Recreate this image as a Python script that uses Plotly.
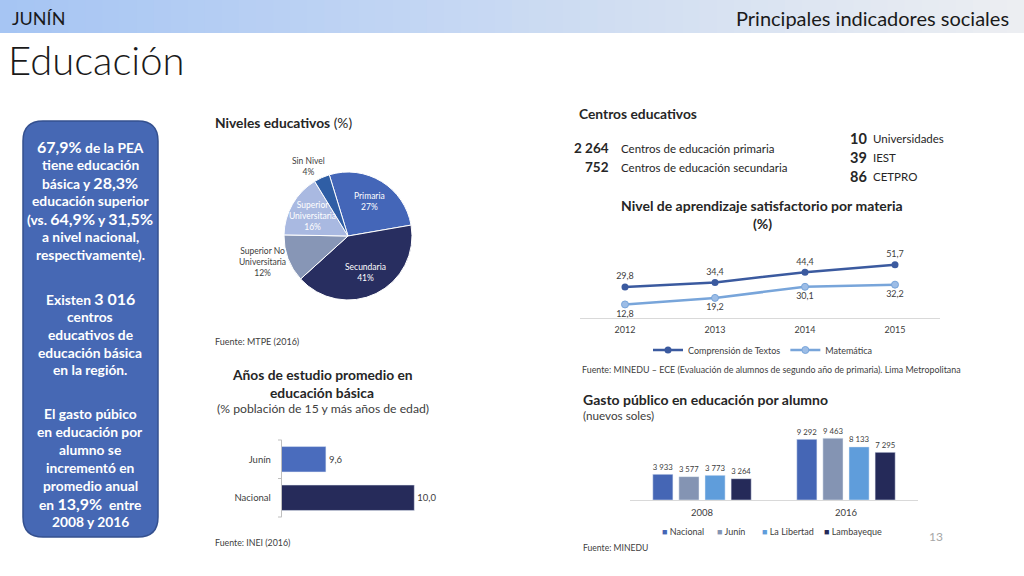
import math
import plotly.graph_objects as go

W, H = 1024, 576
FONT = "Lato"
DARK = "#262626"
GREY = "#404040"

# ---------------- data ----------------
pie_labels = ["Primaria", "Secundaria", "Superior No Universitaria", "Superior Universitaria", "Sin Nivel"]
pie_values = [27, 41, 12, 16, 4]
pie_colors = ["#4466b8", "#282e60", "#8796b6", "#a9b9e1", "#2f5ea5"]

years_line = ["2012", "2013", "2014", "2015"]
comprension = [29.8, 34.4, 44.4, 51.7]
matematica = [12.8, 19.2, 30.1, 32.2]

hbar_cats = ["Junín", "Nacional"]
hbar_vals = [9.6, 10.0]
hbar_colors = ["#4a6cbd", "#262b5a"]

gasto_years = ["2008", "2016"]
gasto_series = ["Nacional", "Junín", "La Libertad", "Lambayeque"]
gasto_vals = {
    "Nacional": [3933, 9292],
    "Junín": [3577, 9463],
    "La Libertad": [3773, 8133],
    "Lambayeque": [3264, 7295],
}
gasto_colors = {"Nacional": "#4566b5", "Junín": "#8494b3", "La Libertad": "#5f9ddb", "Lambayeque": "#252a59"}

centros_main = [("2 264", "Centros de educación primaria"), ("752", "Centros de educación secundaria")]
centros_sup = [("10", "Universidades"), ("39", "IEST"), ("86", "CETPRO")]


def px(x):
    return x / W


def py(y):
    return 1 - y / H


annotations = []
shapes = []


def ann(x, y, text, size=11, color=DARK, xanchor="left", yanchor="middle", weight="normal", family=FONT):
    annotations.append(dict(
        x=px(x), y=py(y), xref="paper", yref="paper", text=text, showarrow=False,
        xanchor=xanchor, yanchor=yanchor, align="center" if xanchor == "center" else xanchor,
        font=dict(family=family, size=size, color=color, weight=weight),
    ))


# ---------------- header band (gradient) ----------------
n = 60
c0 = (166, 197, 243)
c1 = (236, 238, 242)
for i in range(n):
    t = i / (n - 1)
    col = "rgb(%d,%d,%d)" % tuple(round(c0[k] + (c1[k] - c0[k]) * t) for k in range(3))
    shapes.append(dict(type="rect", xref="paper", yref="paper",
                       x0=px(W * i / n), x1=px(W * (i + 1) / n) + 0.001,
                       y0=py(33), y1=1, fillcolor=col, line=dict(width=0), layer="below"))

ann(10, 18, "JUNÍN", size=18, color="#1a1a1a")
ann(1011, 18, "Principales indicadores sociales", size=20, color="#1a1a1a", xanchor="right")
ann(6, 60, "Educación", size=40, color="#1a1a1a", weight=300)

# ---------------- left rounded box ----------------
x0, x1, y0, y1, r = 23, 158, 121, 537, 20
rx, ry = r / W, r / H
X0, X1, Y0, Y1 = px(x0), px(x1), py(y0), py(y1)
path = (f"M {X0+rx},{Y0} L {X1-rx},{Y0} Q {X1},{Y0} {X1},{Y0-ry} "
        f"L {X1},{Y1+ry} Q {X1},{Y1} {X1-rx},{Y1} L {X0+rx},{Y1} Q {X0},{Y1} {X0},{Y1+ry} "
        f"L {X0},{Y0-ry} Q {X0},{Y0} {X0+rx},{Y0} Z")
shapes.append(dict(type="path", path=path, xref="paper", yref="paper",
                   fillcolor="#4668b4", line=dict(color="#34508f", width=1.5)))


def big(s):
    return f"<span style='font-size:16px'>{s}</span>"


box_lines = [
    (147, f"{big('67,9%')} de la PEA"),
    (165, "tiene educación"),
    (183, f"básica y {big('28,3%')}"),
    (201, "educación superior"),
    (219, f"(vs. {big('64,9%')} y {big('31,5%')}"),
    (237, "a nivel nacional,"),
    (254, "respectivamente)."),
    (298, f"Existen {big('3 016')}"),
    (316, "centros"),
    (334, "educativos de"),
    (352, "educación básica"),
    (369, "en la región."),
    (413, "El gasto púbico"),
    (431, "en educación por"),
    (449, "alumno se"),
    (467, "incrementó en"),
    (485, "promedio anual"),
    (503, f"en {big('13,9%')}  entre"),
    (521, "2008 y 2016"),
]
for yy, t in box_lines:
    ann(90, yy, t, size=13.8, color="white", xanchor="center", weight="bold")

# ---------------- pie ----------------
cx, cy, R = 348, 236, 64
rotation = -17
ann(213, 123, "<b>Niveles educativos</b> (%)", size=13.8)
ann(213, 341, "Fuente: MTPE (2016)", size=9, color=GREY)

cum = 0
total = sum(pie_values)
for lab, v in zip(pie_labels, pie_values):
    mid = rotation + (cum + v / 2) / total * 360
    cum += v
    a = math.radians(mid)
    if lab in ("Primaria", "Secundaria", "Superior Universitaria"):
        lx = cx + 0.64 * R * math.sin(a)
        ly = cy - 0.64 * R * math.cos(a)
        txt = lab.replace(" ", "<br>") + f"<br>{v}%"
        ann(lx, ly, txt, size=8.5, color="white", xanchor="center")
ann(308, 166, f"Sin Nivel<br>{pie_values[4]}%", size=8.5, color=GREY, xanchor="center")
ann(262, 262, f"Superior No<br>Universitaria<br>{pie_values[2]}%", size=8.5, color=GREY, xanchor="center")

pie = go.Pie(labels=pie_labels, values=pie_values, sort=False, direction="clockwise", rotation=rotation,
             marker=dict(colors=pie_colors, line=dict(color="white", width=1)),
             textinfo="none", hoverinfo="label+percent", showlegend=False,
             domain=dict(x=[px(cx - R), px(cx + R)], y=[py(cy + R), py(cy - R)]))

# ---------------- centros educativos ----------------
ann(577, 114, "<b>Centros educativos</b>", size=13.8)
for i, (num, lab) in enumerate(centros_main):
    yy = 148 + i * 19
    ann(611, yy, f"<b>{num}</b>", size=13.5, xanchor="right")
    ann(619, yy, lab, size=11.5)
for i, (num, lab) in enumerate(centros_sup):
    yy = 138 + i * 19.3
    ann(869, yy, f"<b>{num}</b>", size=14.5, xanchor="right")
    ann(871, yy, lab, size=11.5)

# ---------------- line chart ----------------
ann(762, 206, "<b>Nivel de aprendizaje satisfactorio por materia</b>", size=14, xanchor="center")
ann(762, 224, "<b>(%)</b>", size=14, xanchor="center")
ann(580, 369, "Fuente: MINEDU – ECE (Evaluación de alumnos de segundo año de primaria). Lima Metropolitana",
    size=8.9, color=GREY)


def fmt1(v):
    return f"{v:.1f}".replace(".", ",")


line1 = go.Scatter(x=years_line, y=comprension, name="Comprensión de Textos", mode="lines+markers+text",
                   line=dict(color="#3b5a9f", width=2.5), marker=dict(size=7, color="#3b5a9f"),
                   text=[fmt1(v) for v in comprension], textposition="top center",
                   textfont=dict(family=FONT, size=9, color=GREY),
                   xaxis="x", yaxis="y", cliponaxis=False, legend="legend")
line2 = go.Scatter(x=years_line, y=matematica, name="Matemática", mode="lines+markers+text",
                   line=dict(color="#78a5da", width=2.5),
                   marker=dict(size=7, color="#9dbde6", line=dict(color="#78a5da", width=1)),
                   text=[fmt1(v) for v in matematica], textposition="bottom center",
                   textfont=dict(family=FONT, size=9, color=GREY),
                   xaxis="x", yaxis="y", cliponaxis=False, legend="legend")

# ---------------- horizontal bar ----------------
ann(322, 374, "<b>Años de estudio promedio en</b>", size=13.8, xanchor="center")
ann(322, 392, "<b>educación básica</b>", size=13.8, xanchor="center")
ann(323, 408, "(% población de 15 y más años de edad)", size=12.2, color=GREY, xanchor="center")
ann(213, 542, "Fuente: INEI (2016)", size=8.8, color=GREY)

hbar = go.Bar(y=hbar_cats, x=hbar_vals, orientation="h", marker=dict(color=hbar_colors),
              text=[fmt1(v) for v in hbar_vals], textposition="outside",
              textfont=dict(family=FONT, size=9.5, color=GREY), cliponaxis=False,
              xaxis="x3", yaxis="y3", showlegend=False, width=0.66)
for yd in (0, 0.5, 1):
    shapes.append(dict(type="line", xref="paper", yref="y3 domain", x0=px(278), x1=px(281.7),
                       y0=yd, y1=yd, line=dict(color="#bfbfbf", width=1)))

# ---------------- grouped bar ----------------
ann(581, 399, "<b>Gasto público en educación por alumno</b>", size=14)
ann(581, 415, "(nuevos soles)", size=11.7, color=GREY)
ann(581, 548, "Fuente: MINEDU", size=8.6, color=GREY)
ann(945, 536, "13", size=12, color="#a6a6a6", xanchor="right")

gbars = []
for s in gasto_series:
    gbars.append(go.Bar(x=gasto_years, y=gasto_vals[s], name=s, marker=dict(color=gasto_colors[s]),
                        text=[f"{v:,}".replace(",", " ") for v in gasto_vals[s]], textposition="outside",
                        textfont=dict(family=FONT, size=9.5, color=GREY), cliponaxis=False,
                        xaxis="x4", yaxis="y4", showlegend=False))

# manual compact legend for grouped bars
leg_x = [663, 718, 763, 825]
for s, lx in zip(gasto_series, leg_x):
    ann(lx - 3, 531, f"<span style='color:{gasto_colors[s]}'>■</span> {s}", size=9, color=GREY)

fig = go.Figure([pie, line1, line2, hbar] + gbars)

fig.update_layout(
    width=W, height=H, margin=dict(l=0, r=0, t=0, b=0),
    paper_bgcolor="white", plot_bgcolor="white",
    font=dict(family=FONT, color=GREY),
    barmode="group", bargap=0.275, bargroupgap=0.23,
    showlegend=True,
    legend=dict(orientation="h", x=px(763), y=py(350), xanchor="center", yanchor="middle",
                font=dict(family=FONT, size=9, color=GREY), itemwidth=30, bgcolor="rgba(0,0,0,0)"),
    # line chart axes
    xaxis=dict(domain=[px(580), px(940)], type="category", range=[-0.5, 3.5], showline=True,
               linecolor="#d9d9d9", linewidth=1, ticks="", showgrid=False, zeroline=False,
               tickfont=dict(family=FONT, size=9, color=GREY), ticklabelstandoff=4,
               anchor="y", fixedrange=True),
    yaxis=dict(domain=[py(317.5), py(256.3)], range=[0, 60], visible=False, anchor="x", fixedrange=True),
    # horizontal bar axes
    xaxis3=dict(domain=[px(281.7), px(436.4)], range=[9.4, 10.1], visible=False, anchor="y3", fixedrange=True),
    yaxis3=dict(domain=[py(517), py(440)], type="category", autorange="reversed", showline=True,
                linecolor="#bfbfbf", linewidth=1, ticks="", showgrid=False, anchor="x3",
                tickfont=dict(family=FONT, size=9.5, color=GREY), ticklabelstandoff=8, fixedrange=True),
    # grouped bar axes
    xaxis4=dict(domain=[px(630), px(918)], type="category", showline=True, linecolor="#d9d9d9",
                linewidth=1, ticks="", showgrid=False, anchor="y4", ticklabelstandoff=4,
                tickfont=dict(family=FONT, size=9.5, color=GREY), fixedrange=True),
    yaxis4=dict(domain=[py(500), py(434.7)], range=[0, 10000], visible=False, anchor="x4", fixedrange=True),
    annotations=annotations, shapes=shapes,
)

fig.write_html("out.html", config={"displayModeBar": False},
               post_script="document.body.style.margin='0';")
